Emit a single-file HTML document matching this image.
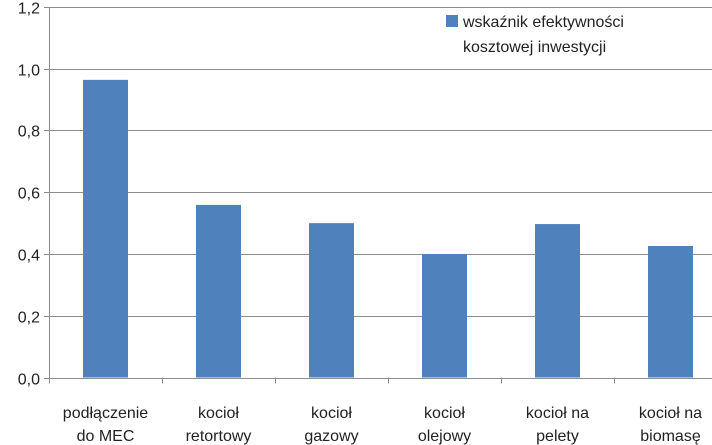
<!DOCTYPE html>
<html><head><meta charset="utf-8"><style>
html,body{margin:0;padding:0;background:#fff;}
svg{display:block;font-family:"Liberation Sans",sans-serif;}
</style></head><body>
<svg id="chart" width="712" height="445" viewBox="0 0 712 445"></svg>
<script>
const categories = [["podłączenie","do MEC"],["kocioł","retortowy"],["kocioł","gazowy"],["kocioł","olejowy"],["kocioł na","pelety"],["kocioł na","biomasę"]];
const values = [0.964, 0.559, 0.50, 0.40, 0.497, 0.426];
const yTicks = [0, 0.2, 0.4, 0.6, 0.8, 1.0, 1.2];
const yTickLabels = ["0,0","0,2","0,4","0,6","0,8","1,0","1,2"];
const seriesName = ["wskaźnik efektywności","kosztowej inwestycji"];

const NS = "http://www.w3.org/2000/svg";
const svg = document.getElementById('chart');
const x0 = 49, y0 = 377.5, yTop = 7, catW = 113, barW = 45, yMax = 1.2;
const yS = v => y0 - v / yMax * (y0 - yTop);
const xC = i => x0 + catW * (i + 0.5);
function mk(tag, attrs, parent) {
  const e = document.createElementNS(NS, tag);
  for (const k in attrs) e.setAttribute(k, attrs[k]);
  (parent || svg).appendChild(e);
  return e;
}
yTicks.forEach((t, i) => {
  const y = Math.round(yS(t)) + 0.5;
  const g = mk('line', {x1: x0 - 5, x2: 712, y1: y, y2: y, stroke: '#8c8c8c', 'stroke-width': 1});
  
  
  const tx = mk('text', {x: 40, y: y + 6, 'text-anchor': 'end', 'font-size': 16, fill: '#222'});
  tx.textContent = yTickLabels[i];
  
  
});
const ax = mk('line', {x1: x0 + 0.5, x2: x0 + 0.5, y1: yTop, y2: y0 + 6, stroke: '#8c8c8c'});


for (let i = 0; i <= categories.length; i++) {
  const x = x0 + catW * i + 0.5;
  const tk = mk('line', {x1: x, x2: x, y1: y0, y2: y0 + 6, stroke: '#8c8c8c'});
  
  
}
values.forEach((v, i) => {
  const r = mk('rect', {x: xC(i) - barW / 2, y: yS(v), width: barW, height: y0 - yS(v), fill: '#4f81bd'});
  
  
});
categories.forEach((c, i) => {
  const t = mk('text', {x: xC(i), y: 418, 'text-anchor': 'middle', 'font-size': 16, fill: '#222'});
  
  
  c.forEach((line, j) => {
    const s = mk('tspan', {x: xC(i), y: 418 + j * 23}, t);
    s.textContent = line;
  });
});
const lg = mk('g', {});


const sw = mk('rect', {x: 446, y: 15, width: 12, height: 12, fill: '#4f81bd'}, lg);


const lt = mk('text', {x: 463, y: 27, 'font-size': 16, fill: '#222'}, lg);


seriesName.forEach((line, j) => {
  const s = mk('tspan', {x: 463, y: 27 + j * 25}, lt);
  s.textContent = line;
});
</script>
</body></html>
